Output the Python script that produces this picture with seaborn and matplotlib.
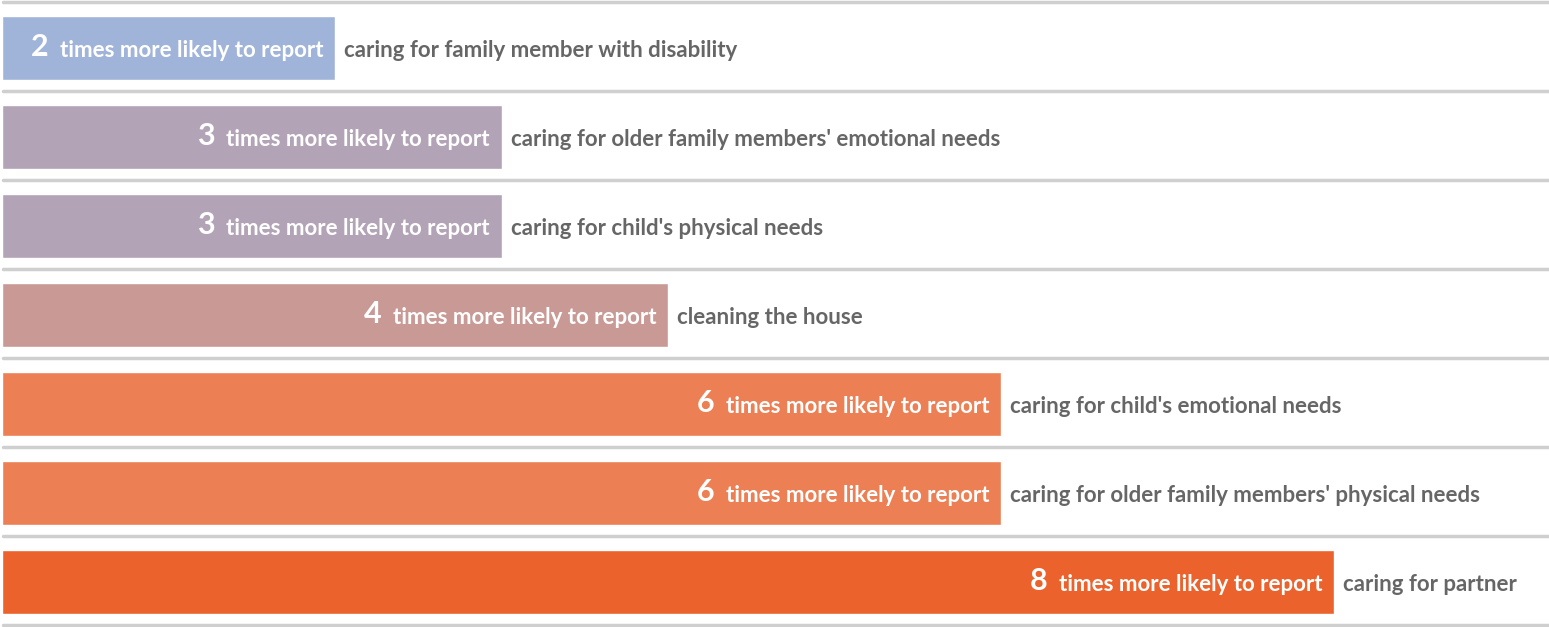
import matplotlib
matplotlib.use("Agg")
import matplotlib.pyplot as plt
import seaborn as sns
import pandas as pd

# Data
tasks = [
    "caring for family member with disability",
    "caring for older family members' emotional needs",
    "caring for child's physical needs",
    "cleaning the house",
    "caring for child's emotional needs",
    "caring for older family members' physical needs",
    "caring for partner",
]
times_more = [2, 3, 3, 4, 6, 6, 8]
bar_colors = ["#a0b4d9", "#b3a3b6", "#b3a3b6", "#c99a95", "#ec7f54", "#ec7f54", "#eb622d"]

df = pd.DataFrame({"task": tasks, "times": times_more})

sns.set_style("white")
plt.rcParams["font.family"] = ["Lato", "DejaVu Sans"]

fig = plt.figure(figsize=(15.49, 6.27), dpi=100)
ax = fig.add_axes([0, 0, 1, 1])

sns.barplot(data=df, x="times", y="task", hue="task", palette=bar_colors,
            legend=False, width=0.72, saturation=1, ax=ax)

ax.set_xlim(-0.012, 9.29)
ax.set_ylim(6.505, -0.539)
ax.axis("off")

# separator lines (slightly above the row mid-point)
for i in range(len(tasks) + 1):
    ax.axhline(i - 0.517, xmin=0.002, xmax=1, color="#cfcfcf", lw=2.5, zorder=0)

fig.canvas.draw()
renderer = fig.canvas.get_renderer()
inv = ax.transData.inverted()
px = 1 / 166.5  # data units per pixel in x

for i, (task, v) in enumerate(zip(tasks, times_more)):
    y = i + 0.03
    phrase = ax.text(v - 12 * px, y, "times more likely to report", color="white",
                     fontsize=16, fontweight="bold", ha="right", va="center")
    bb = phrase.get_window_extent(renderer)
    left = inv.transform((bb.x0, bb.y0))[0]
    ax.text(left - 11 * px, y - 0.04, str(v), color="white", fontsize=22,
            fontweight="bold", ha="right", va="center")
    ax.text(v + 9 * px, y, task, color="#666666", fontsize=16,
            fontweight="bold", ha="left", va="center")

fig.savefig("out.png", dpi=100)
